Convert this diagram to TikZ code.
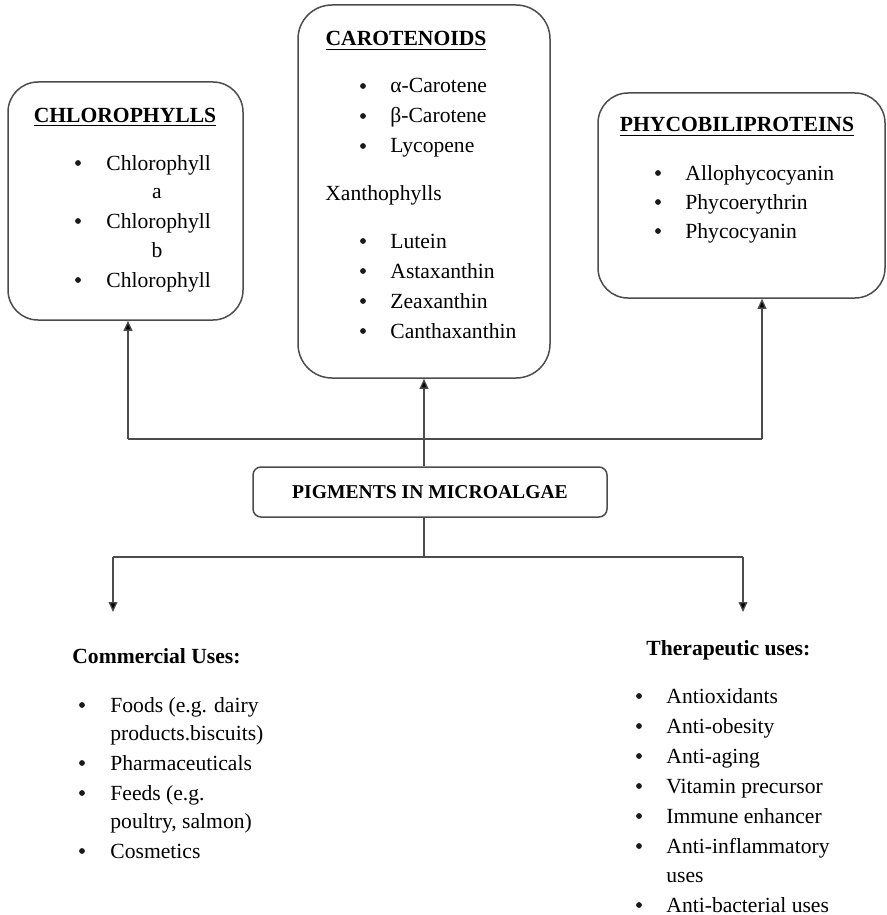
\documentclass[tikz,border=0pt]{standalone}
\usepackage{fontspec}
\setmainfont{Liberation Serif}
\usetikzlibrary{arrows.meta}
\usetikzlibrary{positioning}

\tikzset{
	pigbox/.style={draw=black!70, line width=0.75pt, rounded corners=15pt},
	item/.style={anchor=base west, inner sep=0pt, font=\fontsize{10.8}{13}\selectfont},
	letter/.style={anchor=base, inner sep=0pt, font=\fontsize{10.8}{13}\selectfont},
	dot/.style={circle, fill=black!90, inner sep=0pt, minimum size=2.9pt},
	head/.style={anchor=base, inner sep=0pt, font=\fontsize{10.8}{13}\selectfont\bfseries},
	link/.style={draw=black!70, line width=0.65pt},
	arr/.style={link, -{Triangle[length=5pt,width=4.4pt,fill=black]}},
}

\begin{document}
\begin{tikzpicture}[x=0.5pt,y=-0.5pt]
				\useasboundingbox (0,0) rectangle (887,915);
				% the three pigment groups
				\node[pigbox, minimum width=117.5pt, minimum height=119pt] (chl) at (125.5,201) {};
				\node[pigbox, minimum width=126pt, minimum height=186.5pt, rounded corners=17pt] (car) at (424,191.5) {};
				\node[pigbox, minimum width=143.5pt, minimum height=102.5pt] (phy) at (741.5,195.5) {};
				% centre box
				\node[pigbox, rounded corners=4pt, minimum width=177pt, minimum height=25pt,
					font=\fontsize{9.8}{12}\selectfont\bfseries] (pig) at (430,492) {PIGMENTS IN MICROALGAE};
				
				% chlorophylls
				\node[head] (chl-t) at (125,122) {\underline{CHLOROPHYLLS}};
				\foreach \y in {170,228,287} {
					\node[dot] at (78,\y-7) {};
					\node[item] at (106,\y) {Chlorophyll};
				}
				\node[letter] (chl-a) at (157,198) {a};
				\node[letter] (chl-b) at (157,257) {b};
				
				% carotenoids
				\node[head] (car-t) at (406,46) {\underline{CAROTENOIDS}};
				\foreach \y/\t in {93/α-Carotene, 123/β-Carotene, 153/Lycopene,
					248/Lutein, 278/Astaxanthin, 308/Zeaxanthin, 338/Canthaxanthin} {
					\node[dot] at (363,\y-7) {};
					\node[item] at (390,\y) {\t};
				}
				\node[item] (xan) at (325,200) {Xanthophylls};
				
				% phycobiliproteins
				\node[head] (phy-t) at (737,132) {\underline{PHYCOBILIPROTEINS}};
				\foreach \y/\t in {180/Allophycocyanin, 209/Phycoerythrin, 238/Phycocyanin} {
					\node[dot] at (658,\y-7) {};
					\node[item] at (685,\y) {\t};
				}
				
				% upper branches
				\coordinate (tl) at (128,439);
				\coordinate (tr) at (762,439);
				\draw[link] (tl) -- (tr);
				\draw[arr] (tl) -- (tl |- chl.south);
				\draw[arr] (tr) -- (tr |- phy.south);
				\draw[arr] (pig.north -| car.south) -- (car.south);
				
				% lower branches
				\coordinate (bm) at (424,557);
				\coordinate (bl) at (113,557);
				\coordinate (br) at (743,557);
				\coordinate (cl) at (113,612);
				\coordinate (cr) at (743,612);
				\draw[link] (pig.south -| bm) -- (bm);
				\draw[link] (bl) -- (br);
				\draw[arr] (bl) -- (cl);
				\draw[arr] (br) -- (cr);
				
				% commercial uses
				\node[item, font=\fontsize{10.8}{13}\selectfont\bfseries] (com) at (72,663) {Commercial Uses:};
				\foreach \y in {712,770,800,858}
					\node[dot] at (82,\y-7) {};
				\foreach \y/\t in {712/Foods (e.g. dairy, 740/products.biscuits), 770/Pharmaceuticals,
					800/Feeds (e.g., 828/{poultry, salmon)}, 858/Cosmetics}
					\node[item] at (110,\y) {\t};
				
				% therapeutic uses
				\node[item, font=\fontsize{10.8}{13}\selectfont\bfseries] (ther) at (646,655) {Therapeutic uses:};
				\foreach \y in {703,733,763,793,823,853,912}
					\node[dot] at (639,\y-7) {};
				\foreach \y/\t in {703/Antioxidants, 733/Anti-obesity, 763/Anti-aging, 793/Vitamin precursor,
					823/Immune enhancer, 853/Anti-inflammatory, 882/uses, 912/Anti-bacterial uses}
					\node[item] at (666,\y) {\t};
\end{tikzpicture}
\end{document}
